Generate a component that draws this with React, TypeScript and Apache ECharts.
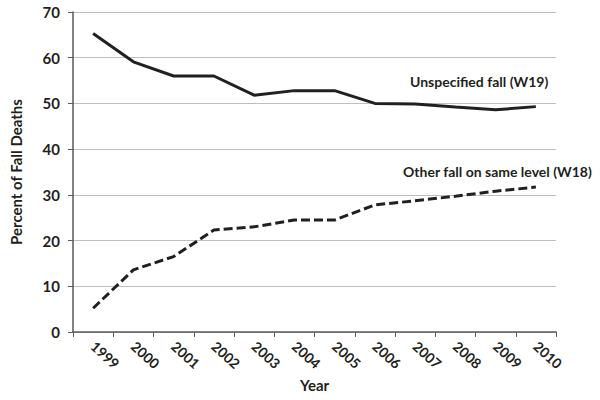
import React, { useEffect, useRef } from "react";
import * as echarts from "echarts";

const years = ["1999", "2000", "2001", "2002", "2003", "2004", "2005", "2006", "2007", "2008", "2009", "2010"];
const unspecifiedFall = [65.3, 59.1, 56.0, 56.0, 51.8, 52.8, 52.8, 50.0, 49.9, 49.2, 48.6, 49.3];
const sameLevelFall = [5.2, 13.6, 16.5, 22.3, 23.0, 24.5, 24.5, 27.8, 28.7, 29.7, 30.8, 31.7];
const yTicks = { min: 0, max: 70, interval: 10 };

const FONT = "Lato";
const TEXT = "#231f20";

export default function App() {
  const ref = useRef<HTMLDivElement>(null);
  useEffect(() => {
    if (!ref.current) return;
    const chart = echarts.init(ref.current, null, { renderer: "svg" });
    chart.setOption({
      animation: false,
      backgroundColor: "#ffffff",
      grid: { left: 73, right: 44, top: 12, bottom: 68 },
      xAxis: {
        type: "category",
        data: years,
        boundaryGap: true,
        name: "Year",
        nameLocation: "middle",
        nameGap: 44,
        nameTextStyle: { fontFamily: FONT, fontWeight: "bold", fontSize: 15, color: TEXT },
        axisLine: { lineStyle: { color: "#595959", width: 1.5 } },
        axisTick: { show: true, alignWithLabel: false, length: 5, lineStyle: { color: "#595959" } },
        axisLabel: {
          rotate: -42,
          margin: 12,
          fontFamily: FONT,
          fontWeight: "bold",
          fontSize: 14,
          color: TEXT,
          interval: 0,
        },
        splitLine: { show: false },
      },
      yAxis: {
        type: "value",
        min: yTicks.min,
        max: yTicks.max,
        interval: yTicks.interval,
        name: "Percent of Fall Deaths",
        nameLocation: "middle",
        nameGap: 50,
        nameTextStyle: { fontFamily: FONT, fontWeight: "bold", fontSize: 15, color: TEXT },
        axisLine: { show: true, lineStyle: { color: "#595959", width: 1.5 } },
        axisTick: { show: true, length: 5, lineStyle: { color: "#595959" } },
        axisLabel: { fontFamily: FONT, fontWeight: "bold", fontSize: 15, color: TEXT, margin: 13 },
        splitLine: { show: true, lineStyle: { color: "#bfbfbf", width: 1 } },
      },
      series: [
        {
          name: "Unspecified fall (W19)",
          type: "line",
          data: unspecifiedFall,
          symbol: "none",
          lineStyle: { color: TEXT, width: 3 },
        },
        {
          name: "Other fall on same level (W18)",
          type: "line",
          data: sameLevelFall,
          symbol: "none",
          lineStyle: { color: TEXT, width: 3, type: [9, 4] },
        },
      ],
      graphic: [
        {
          type: "text",
          left: 410,
          top: 74,
          style: { text: "Unspecified fall (W19)", fontFamily: FONT, fontWeight: "bold", fontSize: 14, fill: TEXT },
        },
        {
          type: "text",
          left: 403,
          top: 164,
          style: { text: "Other fall on same level (W18)", fontFamily: FONT, fontWeight: "bold", fontSize: 14, fill: TEXT },
        },
      ],
    });
    return () => chart.dispose();
  }, []);
  return <div ref={ref} style={{ width: 600, height: 400, position: "absolute", left: 0, top: 0 }} />;
}
